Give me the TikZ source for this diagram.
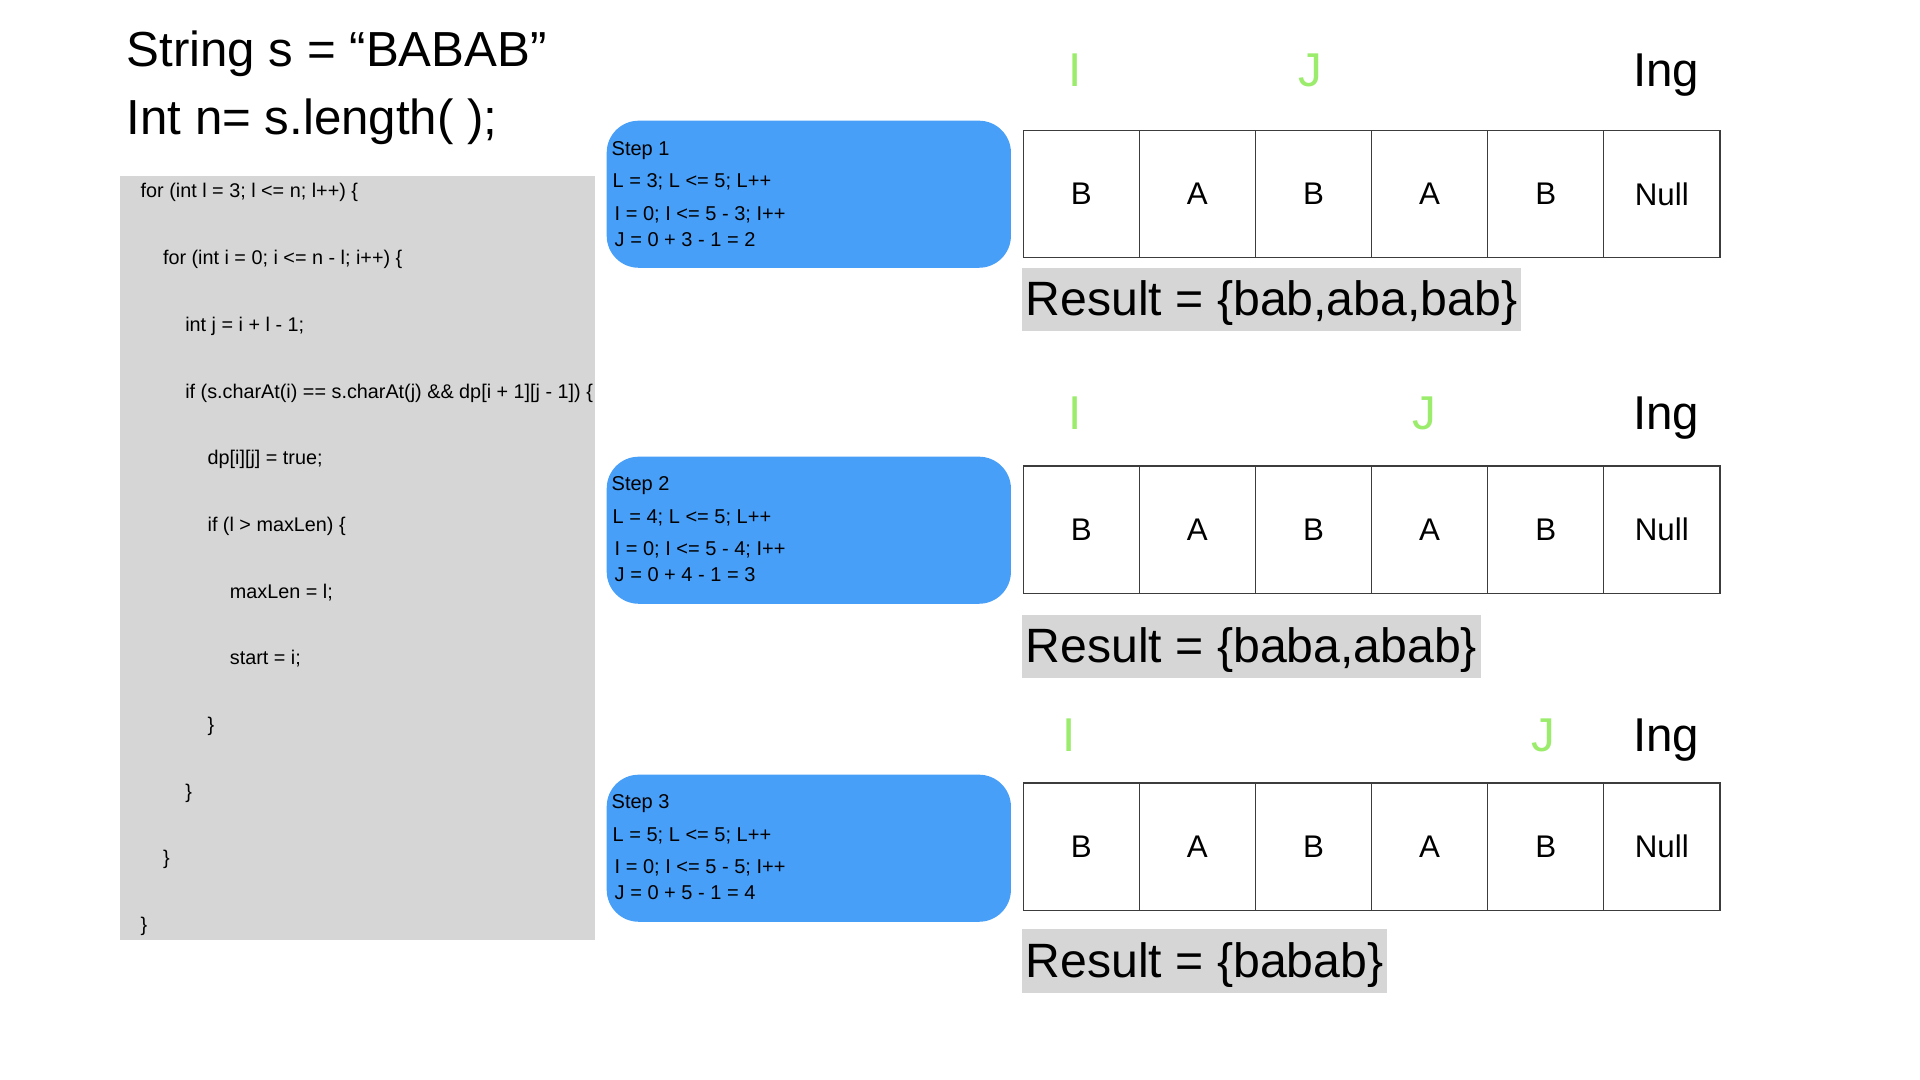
\documentclass[tikz,border=0pt]{standalone}
\usepackage{fontspec}
\setmainfont{Liberation Sans}
\definecolor{stepblue}{RGB}{72,159,248}
\definecolor{codegray}{RGB}{214,214,214}
\definecolor{ptrgreen}{RGB}{155,236,108}
\definecolor{cellline}{RGB}{60,60,60}
\tikzset{
  titletext/.style={anchor=base west, inner sep=0, font=\fontsize{14}{16}\selectfont},
  codetext/.style={anchor=base west, inner sep=0, font=\fontsize{5.63}{7}\selectfont},
  codebg/.style={fill=codegray, anchor=north west, inner sep=0, minimum width=47.5mm, minimum height=76.4mm},
  stepbox/.style={fill=stepblue, anchor=north west, inner sep=0, rounded corners=3.2mm, minimum width=40.4mm, minimum height=14.7mm},
  steptext/.style={anchor=base west, inner sep=0, font=\fontsize{5.69}{7}\selectfont},
  cellbox/.style={draw=cellline, line width=0.4pt, anchor=north west, inner sep=0, minimum width=11.61mm, minimum height=12.7mm, font=\fontsize{8.9}{10}\selectfont},
  ptrtext/.style={anchor=base, inner sep=0, text=ptrgreen, font=\fontsize{13.5}{15}\selectfont},
  ingtext/.style={anchor=base, inner sep=0, font=\fontsize{13.5}{15}\selectfont},
  resultbox/.style={anchor=west, fill=codegray, inner xsep=0.4mm, inner ysep=0, text height=4.8mm, text depth=1.5mm, font=\fontsize{13.7}{15}\selectfont}
}
\begin{document}
\begin{tikzpicture}[x=0.01cm, y=-0.01cm]
\path[use as bounding box] (0,0) rectangle (1920,1080);

% title
\node[titletext] (t1) at (126,67) {String s = “BABAB”};
\node[titletext] (t2) at (126,135) {Int n= s.length( );};

% code block
\node[codebg] (codebox) at (119,175) {};
\node[codetext] (c1)  at (140.0,198.0) {for (int l = 3; l <= n; l++) \{};
\node[codetext] (c2)  at (162.3,264.7) {for (int i = 0; i <= n - l; i++) \{};
\node[codetext] (c3)  at (184.6,331.4) {int j = i + l - 1;};
\node[codetext] (c4)  at (184.6,398.1) {if (s.charAt(i) == s.charAt(j) \&\& dp[i + 1][j - 1]) \{};
\node[codetext] (c5)  at (206.9,464.8) {dp[i][j] = true;};
\node[codetext] (c6)  at (206.9,531.5) {if (l > maxLen) \{};
\node[codetext] (c7)  at (229.2,598.2) {maxLen = l;};
\node[codetext] (c8)  at (229.2,664.9) {start = i;};
\node[codetext] (c9)  at (206.9,731.6) {\}};
\node[codetext] (c10) at (184.6,798.3) {\}};
\node[codetext] (c11) at (162.3,865.0) {\}};
\node[codetext] (c12) at (140.0,931.7) {\}};

% step boxes
\node[stepbox] (step1) at (606,120) {};
\node[steptext] (s1a) at (611,156) {Step 1};
\node[steptext] (s1b) at (612,188) {L = 3; L <= 5; L++};
\node[steptext] (s1c) at (614,221) {I = 0; I <= 5 - 3; I++};
\node[steptext] (s1d) at (614,247) {J = 0 + 3 - 1 = 2};

\node[stepbox] (step2) at (606,456) {};
\node[steptext] (s2a) at (611,491) {Step 2};
\node[steptext] (s2b) at (612,524) {L = 4; L <= 5; L++};
\node[steptext] (s2c) at (614,556) {I = 0; I <= 5 - 4; I++};
\node[steptext] (s2d) at (614,582) {J = 0 + 4 - 1 = 3};

\node[stepbox] (step3) at (606,774) {};
\node[steptext] (s3a) at (611,809) {Step 3};
\node[steptext] (s3b) at (612,842) {L = 5; L <= 5; L++};
\node[steptext] (s3c) at (614,874) {I = 0; I <= 5 - 5; I++};
\node[steptext] (s3d) at (614,900) {J = 0 + 5 - 1 = 4};

% arrays
\foreach \r/\top in {1/130,2/465.5,3/782.5}{
  \foreach \k/\ch in {0/B,1/A,2/B,3/A,4/B,5/Null}{
    \node[cellbox] (r\r c\k) at (1022.5+116.1*\k,\top) {\ch};
  }
}

% pointer labels
\node[ptrtext] (i1) at (1075,87) {I};
\node[ptrtext] (j1) at (1310,87) {J};
\node[ingtext] (ing1) at (1666,87) {Ing};
\node[ptrtext] (i2) at (1075,430) {I};
\node[ptrtext] (j2) at (1424,430) {J};
\node[ingtext] (ing2) at (1666,430) {Ing};
\node[ptrtext] (i3) at (1069,752) {I};
\node[ptrtext] (j3) at (1543,752) {J};
\node[ingtext] (ing3) at (1666,752) {Ing};

% results
\node[resultbox] (res1) at (1021,299.5) {Result = \{bab,aba,bab\}};
\node[resultbox] (res2) at (1021,646.5) {Result = \{baba,abab\}};
\node[resultbox] (res3) at (1021,961) {Result = \{babab\}};
\end{tikzpicture}
\end{document}
